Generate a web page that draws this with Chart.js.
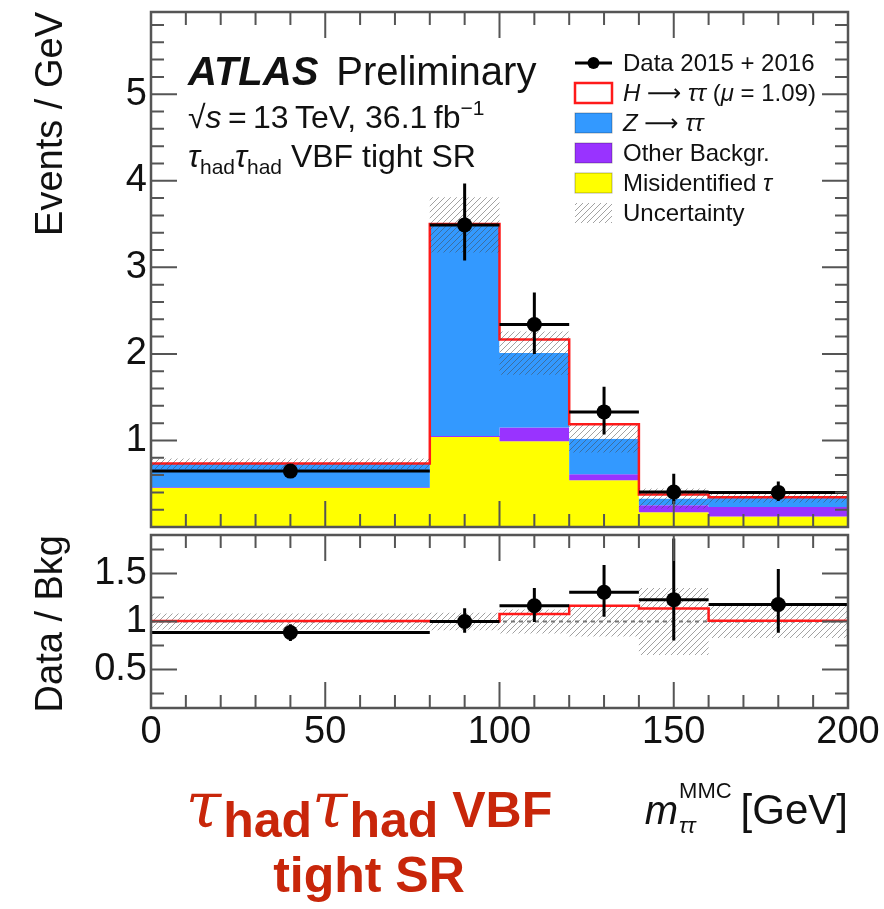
<!DOCTYPE html>
<html>
<head>
<meta charset="utf-8">
<script src="https://cdn.jsdelivr.net/npm/chart.js@4.4.1/dist/chart.umd.min.js"></script>
<style>
  html, body { margin: 0; padding: 0; background: #fff; }
  #wrap { position: relative; width: 884px; height: 909px; overflow: hidden; }
  #wrap canvas { position: absolute; left: 0; top: 0; }
  #caption {
    position: absolute; left: 0; top: 778px; width: 738px;
    text-align: center; color: #c8260a;
    font: bold 50px "Liberation Sans", Arial, sans-serif; line-height: 65px;
  }
  #caption .tau { font: italic 64px "DejaVu Serif", serif; line-height: 0; margin-right: 2px; }
  #caption .had { position: relative; top: 10px; }
</style>
</head>
<body>
<div id="wrap">
  <canvas id="main" width="884" height="909"></canvas>
  <canvas id="ratio" width="884" height="909"></canvas>
  <div id="caption">
    <div><span class="tau">τ</span><span class="had">had</span><span class="tau">τ</span><span class="had">had</span> VBF</div>
    <div>tight SR</div>
  </div>
</div>
<script>
// m_tautau (MMC) bins, events / GeV
const binEdges  = [0, 80, 100, 120, 140, 160, 200];
const misidTau  = [0.45, 1.04, 0.99, 0.54, 0.17, 0.12];
const otherBkg  = [0.01, 0.01, 0.16, 0.07, 0.08, 0.11];
const zTauTau   = [0.27, 2.44, 0.86, 0.41, 0.08, 0.11];
const hTauTau   = [0.003, 0.01, 0.155, 0.167, 0.045, 0.003];
const bkgUnc    = [0.06, 0.32, 0.25, 0.16, 0.115, 0.058];
const dataVal   = [0.646, 3.49, 2.34, 1.33, 0.405, 0.40];
const dataErrLo = [0.064, 0.41, 0.34, 0.26, 0.14, 0.10];
const dataErrHi = [0.064, 0.48, 0.37, 0.29, 0.21, 0.126];

const mainTicks  = [1, 2, 3, 4, 5];
const ratioTicks = [0.5, 1, 1.5];
const massTicks  = [0, 50, 100, 150, 200];

const SANS = '"Liberation Sans", Arial, sans-serif';
Chart.defaults.font.family = SANS;
Chart.defaults.color = '#111';

// derived stacks and ratios
const sumOf = (...h) => h[0].map((_, i) => h.reduce((s, a) => s + a[i], 0));
const stackOther = sumOf(misidTau, otherBkg);
const bkgTotal   = sumOf(misidTau, otherBkg, zTauTau);
const withSignal = sumOf(bkgTotal, hTauTau);
const binCenters = dataVal.map((_, i) => (binEdges[i] + binEdges[i + 1]) / 2);

const ratioSignal = withSignal.map((v, i) => v / bkgTotal[i]);
const ratioBandLo = bkgUnc.map((u, i) => 1 - u / bkgTotal[i]);
const ratioBandHi = bkgUnc.map((u, i) => 1 + u / bkgTotal[i]);
const ratioData   = dataVal.map((v, i) => v / bkgTotal[i]);
const ratioErrLo  = dataErrLo.map((e, i) => e / bkgTotal[i]);
const ratioErrHi  = dataErrHi.map((e, i) => e / bkgTotal[i]);

// histogram outline: one point per left edge + closing right edge
function steps(vals) {
  const pts = vals.map((v, i) => ({ x: binEdges[i], y: v }));
  pts.push({ x: binEdges[binEdges.length - 1], y: vals[vals.length - 1] });
  return pts;
}

function hatch() {
  const n = 6;
  const c = document.createElement('canvas');
  c.width = n; c.height = n;
  const g = c.getContext('2d');
  g.strokeStyle = 'rgba(70,70,70,0.5)';
  g.lineWidth = 1;
  g.beginPath();
  g.moveTo(-1, n + 1); g.lineTo(n + 1, -1);
  g.moveTo(-1, 1); g.lineTo(1, -1);
  g.moveTo(n - 1, n + 1); g.lineTo(n + 1, n - 1);
  g.stroke();
  return g.createPattern(c, 'repeat');
}
const hatchFill = hatch();

function area(data, color, fill, order) {
  return { data, stepped: 'before', fill, backgroundColor: color,
           borderColor: 'transparent', borderWidth: 0, pointRadius: 0, order };
}

// ROOT-like frame with inward ticks on all four sides
function makeFrame(yMinor, yMajor) {
  return {
    id: 'frame',
    afterDatasetsDraw(chart) {
      const { ctx, chartArea: a } = chart;
      const xs = chart.scales.x, ys = chart.scales.y;
      const major = (v, m) => Math.abs(v / m - Math.round(v / m)) < 1e-6;
      ctx.save();
      ctx.strokeStyle = '#555';
      ctx.lineWidth = 2;
      ctx.beginPath();
      for (let k = 0; ; k++) {
        const v = xs.min + k * 10;
        if (v > xs.max + 1e-9) break;
        const px = xs.getPixelForValue(v);
        const len = major(v, 50) ? 26 : 13;
        ctx.moveTo(px, a.bottom); ctx.lineTo(px, a.bottom - len);
        ctx.moveTo(px, a.top); ctx.lineTo(px, a.top + len);
      }
      const y0 = Math.ceil(ys.min / yMinor - 1e-9) * yMinor;
      for (let k = 0; ; k++) {
        const v = y0 + k * yMinor;
        if (v > ys.max + 1e-9) break;
        const py = ys.getPixelForValue(v);
        const len = major(v, yMajor) ? 26 : 13;
        ctx.moveTo(a.left, py); ctx.lineTo(a.left + len, py);
        ctx.moveTo(a.right, py); ctx.lineTo(a.right - len, py);
      }
      ctx.stroke();
      ctx.lineWidth = 2.5;
      ctx.strokeRect(a.left, a.top, a.width, a.height);
      ctx.restore();
    }
  };
}

function makeErrorBars(vals, lo, hi) {
  return {
    id: 'errorBars',
    afterDatasetsDraw(chart) {
      const { ctx, chartArea: a } = chart;
      const xs = chart.scales.x, ys = chart.scales.y;
      ctx.save();
      ctx.beginPath();
      ctx.rect(a.left, a.top, a.width, a.height);
      ctx.clip();
      ctx.strokeStyle = '#000';
      ctx.lineWidth = 3;
      ctx.beginPath();
      vals.forEach((v, i) => {
        const cx = xs.getPixelForValue(binCenters[i]);
        const py = ys.getPixelForValue(v);
        ctx.moveTo(xs.getPixelForValue(binEdges[i]), py);
        ctx.lineTo(xs.getPixelForValue(binEdges[i + 1]), py);
        ctx.moveTo(cx, ys.getPixelForValue(v - lo[i]));
        ctx.lineTo(cx, ys.getPixelForValue(v + hi[i]));
      });
      ctx.stroke();
      ctx.restore();
    }
  };
}

// draws a run of text pieces: [text, font, dy]
function rich(ctx, parts, x, y) {
  parts.forEach(([t, f, dy]) => {
    ctx.font = f;
    ctx.fillText(t, x, y + (dy || 0));
    x += ctx.measureText(t).width;
  });
  return x;
}

const atlasLabel = {
  id: 'atlasLabel',
  afterDraw(chart) {
    const { ctx } = chart;
    ctx.save();
    ctx.fillStyle = '#111';
    ctx.textBaseline = 'alphabetic';
    const x0 = 188;
    ctx.font = 'italic bold 40px ' + SANS;
    const w = ctx.measureText('ATLAS').width;
    ctx.fillText('ATLAS', x0, 85);
    ctx.font = '40px ' + SANS;
    ctx.fillText('Preliminary', x0 + w + 18, 85);

    const n = '32px ' + SANS, it = 'italic 32px ' + SANS, sm = '21px ' + SANS;
    rich(ctx, [['√', n], ['s', it], ['\u2009=\u200913\u2009TeV, 36.1\u2009fb', n], ['−1', sm, -13]], x0, 128);
    rich(ctx, [['τ', it], ['had', sm, 7], ['τ', it], ['had', sm, 7], [' VBF tight SR', n]], x0, 167);

    // legend
    const lx = 575, bw = 37, bh = 20, tx = 623;
    const L = '24px ' + SANS, Li = 'italic 24px ' + SANS, A = '24px "DejaVu Sans", sans-serif';
    const rows = [
      { mark: 'data', text: [['Data 2015 + 2016', L]] },
      { mark: 'sig', text: [['H', Li], [' ', L], ['⟶', A], [' ', L], ['ττ', Li], [' (', L], ['μ', Li], [' = 1.09)', L]] },
      { mark: '#3399ff', text: [['Z', Li], [' ', L], ['⟶', A], [' ', L], ['ττ', Li]] },
      { mark: '#9933ff', text: [['Other Backgr.', L]] },
      { mark: '#ffff00', text: [['Misidentified ', L], ['τ', Li]] },
      { mark: 'unc', text: [['Uncertainty', L]] }
    ];
    rows.forEach((r, i) => {
      const cy = 63 + 30 * i;
      if (r.mark === 'data') {
        ctx.strokeStyle = '#000'; ctx.lineWidth = 3;
        ctx.beginPath(); ctx.moveTo(lx, cy); ctx.lineTo(lx + bw, cy); ctx.stroke();
        ctx.beginPath(); ctx.arc(lx + bw / 2, cy, 6, 0, Math.PI * 2); ctx.fillStyle = '#000'; ctx.fill();
      } else if (r.mark === 'sig') {
        ctx.fillStyle = '#fff'; ctx.fillRect(lx, cy - bh / 2, bw, bh);
        ctx.strokeStyle = '#ff1a1a'; ctx.lineWidth = 2.5;
        ctx.strokeRect(lx, cy - bh / 2, bw, bh);
      } else if (r.mark === 'unc') {
        ctx.fillStyle = hatchFill; ctx.fillRect(lx, cy - bh / 2, bw, bh);
      } else {
        ctx.fillStyle = r.mark; ctx.fillRect(lx, cy - bh / 2, bw, bh);
        ctx.strokeStyle = 'rgba(0,0,0,0.3)'; ctx.lineWidth = 1;
        ctx.strokeRect(lx, cy - bh / 2, bw, bh);
      }
      ctx.fillStyle = '#111';
      rich(ctx, r.text, tx, cy + 8);
    });
    ctx.restore();
  }
};

const massTitle = {
  id: 'massTitle',
  afterDraw(chart) {
    const { ctx, chartArea: a } = chart;
    ctx.save();
    ctx.fillStyle = '#111';
    ctx.textAlign = 'right';
    ctx.font = '42px ' + SANS;
    const unit = '[GeV]';
    const base = a.bottom + 116;
    ctx.fillText(unit, a.right, base);
    const uw = ctx.measureText(unit).width + 9;
    ctx.font = '22px ' + SANS;
    const mmc = ctx.measureText('MMC').width;
    ctx.fillText('MMC', a.right - uw, base - 26);
    ctx.font = 'italic 22px ' + SANS;
    ctx.textAlign = 'left';
    ctx.fillText('ττ', a.right - uw - mmc, base + 9);
    ctx.font = 'italic 40px ' + SANS;
    ctx.textAlign = 'right';
    ctx.fillText('m', a.right - uw - mmc - 1, base);
    ctx.restore();
  }
};

function yAxis(min, max, tickVals, title) {
  return {
    type: 'linear', min, max,
    afterBuildTicks: s => { s.ticks = tickVals.map(v => ({ value: v })); },
    ticks: { font: { size: 38 }, color: '#111', padding: 4, callback: v => String(v) },
    grid: { display: false, drawTicks: false },
    border: { display: false },
    title: { display: true, text: title, align: 'end', color: '#111',
             font: { size: 38 }, padding: { top: 29, bottom: 0 } },
    afterFit: s => { s.width = 151; s.paddingTop = 0; s.paddingBottom = 0; }
  };
}

const common = {
  responsive: false,
  animation: false,
  events: [],
  plugins: { legend: { display: false }, tooltip: { enabled: false } }
};

new Chart(document.getElementById('main'), {
  type: 'line',
  data: {
    datasets: [
      area(steps(misidTau), '#ffff00', 'origin', 10),
      area(steps(stackOther), '#9933ff', '-1', 9),
      area(steps(bkgTotal), '#3399ff', '-1', 8),
      { data: steps(withSignal), stepped: 'before', fill: '-1', backgroundColor: '#ffffff',
        borderColor: '#ff1a1a', borderWidth: 2.5, pointRadius: 0, order: 7 },
      area(steps(bkgTotal.map((v, i) => v - bkgUnc[i])), 'transparent', false, 6),
      area(steps(bkgTotal.map((v, i) => v + bkgUnc[i])), hatchFill, '-1', 5),
      { data: binCenters.map((x, i) => ({ x, y: dataVal[i] })), showLine: false,
        pointRadius: 7.5, pointBackgroundColor: '#000', pointBorderWidth: 0, order: 0 }
    ]
  },
  options: {
    ...common,
    layout: { padding: { left: 0, top: 12, right: 36, bottom: 382 } },
    scales: {
      x: { type: 'linear', display: false, min: 0, max: 200 },
      y: yAxis(0, 5.95, mainTicks, 'Events / GeV')
    }
  },
  plugins: [makeErrorBars(dataVal, dataErrLo, dataErrHi), makeFrame(0.2, 1), atlasLabel]
});

new Chart(document.getElementById('ratio'), {
  type: 'line',
  data: {
    datasets: [
      area(steps(ratioBandLo), 'transparent', false, 6),
      area(steps(ratioBandHi), hatchFill, '-1', 5),
      { data: [{ x: binEdges[0], y: 1 }, { x: binEdges[binEdges.length - 1], y: 1 }],
        borderColor: '#777', borderWidth: 2, borderDash: [4, 4], pointRadius: 0, fill: false, order: 4 },
      { data: steps(ratioSignal), stepped: 'before', fill: false,
        borderColor: '#ff1a1a', borderWidth: 2.5, pointRadius: 0, order: 3 },
      { data: binCenters.map((x, i) => ({ x, y: ratioData[i] })), showLine: false,
        pointRadius: 7.5, pointBackgroundColor: '#000', pointBorderWidth: 0, order: 0 }
    ]
  },
  options: {
    ...common,
    layout: { padding: { left: 0, top: 535, right: 36, bottom: 141 } },
    scales: {
      x: {
        type: 'linear', min: 0, max: 200,
        afterBuildTicks: s => { s.ticks = massTicks.map(v => ({ value: v })); },
        ticks: { font: { size: 38 }, color: '#111', padding: 2, maxRotation: 0, autoSkip: false },
        grid: { display: false, drawTicks: false },
        border: { display: false },
        afterFit: s => { s.height = 60; s.paddingLeft = 0; s.paddingRight = 0; }
      },
      y: yAxis(0.1, 1.9, ratioTicks, 'Data / Bkg')
    }
  },
  plugins: [makeErrorBars(ratioData, ratioErrLo, ratioErrHi), makeFrame(0.25, 0.5), massTitle]
});
</script>
</body>
</html>
